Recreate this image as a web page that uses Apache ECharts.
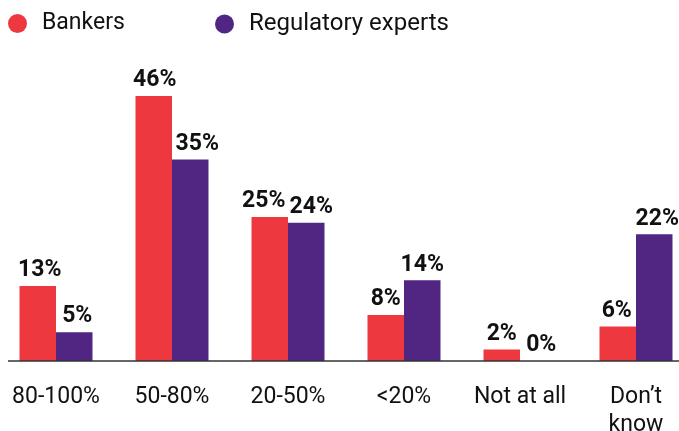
<!DOCTYPE html>
<html>
<head>
<meta charset="utf-8">
<script src="https://cdn.jsdelivr.net/npm/echarts@6/dist/echarts.min.js"></script>
<style>
html,body{margin:0;padding:0;background:#fff;}
#chart{width:679px;height:431px;}
</style>
</head>
<body>
<div id="chart"></div>
<script>
var categories = ['80-100%', '50-80%', '20-50%', '<20%', 'Not at all', 'Don\u2019t\nknow'];
var bankers = [13, 46, 25, 8, 2, 6];
var regulatoryExperts = [5, 35, 24, 14, 0, 22];
var seriesNames = ['Bankers', 'Regulatory experts'];

var RED = '#ee3840';
var PURPLE = '#512683';
var FONT = 'Roboto';

// small horizontal nudges of value labels (as in the reference)
var bankersLabelDx = [2, 1, -6, 0, 0, -1];
var expertsLabelDx = [3, 7, 5, 0, 3, 3];

var chart = echarts.init(document.getElementById('chart'), null, {renderer: 'canvas'});

function labelCfg() {
  return {
    show: true,
    position: 'top',
    distance: 4,
    formatter: '{c}%',
    fontFamily: FONT,
    fontWeight: 'bold',
    fontSize: 23,
    color: '#111'
  };
}

var option = {
  animation: false,
  backgroundColor: '#ffffff',
  legend: [
    {
      left: 3, top: 7,
      data: [seriesNames[0]],
      icon: 'circle',
      itemWidth: 19, itemHeight: 19,
      textStyle: {fontFamily: FONT, fontSize: 23, color: '#111', padding: [0, 0, 0, 10]}
    },
    {
      left: 210, top: 7,
      data: [seriesNames[1]],
      icon: 'circle',
      itemWidth: 19, itemHeight: 19,
      textStyle: {fontFamily: FONT, fontSize: 24, color: '#111', padding: [0, 0, 0, 10]}
    }
  ],
  grid: {left: -2, width: 696, top: 73, bottom: 70, containLabel: false, outerBoundsMode: 'none'},
  xAxis: {
    type: 'category',
    data: categories,
    axisLine: {show: false},
    axisTick: {show: false},
    axisLabel: {
      fontFamily: FONT,
      fontSize: 23,
      color: '#111',
      margin: 22,
      lineHeight: 28,
      interval: 0
    }
  },
  yAxis: {
    type: 'value',
    min: 0, max: 50,
    show: false,
    splitLine: {show: false}
  },
  graphic: [
    {
      type: 'line',
      shape: {x1: 8, y1: 361, x2: 679, y2: 361},
      style: {stroke: '#333', lineWidth: 1.5},
      z: 10
    }
  ],
  series: [
    {
      name: seriesNames[0],
      type: 'bar',
      data: bankers,
      barWidth: 36.5,
      barGap: '0%',
      itemStyle: {color: RED},
      label: labelCfg(),
      labelLayout: function (p) { return {dx: bankersLabelDx[p.dataIndex] || 0}; }
    },
    {
      name: seriesNames[1],
      type: 'bar',
      data: regulatoryExperts,
      barWidth: 36.5,
      barGap: '0%',
      itemStyle: {color: PURPLE},
      label: labelCfg(),
      labelLayout: function (p) { return {dx: expertsLabelDx[p.dataIndex] || 0}; }
    }
  ]
};
chart.setOption(option);
</script>
</body>
</html>
